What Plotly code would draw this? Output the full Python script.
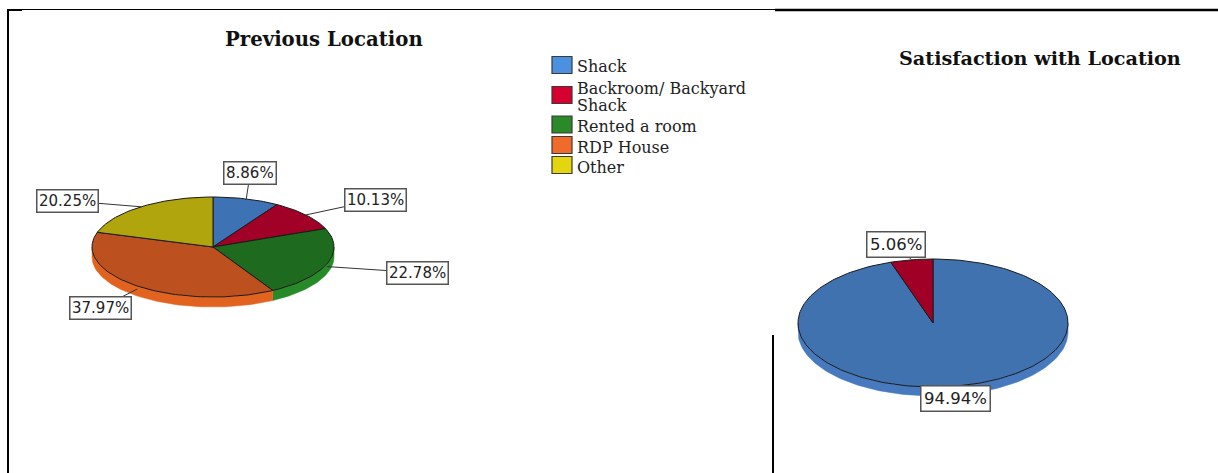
import numpy as np
import plotly.graph_objects as go

# ---------------- data ----------------
prev_categories = ["Shack", "Backroom/ Backyard Shack", "Rented a room", "RDP House", "Other"]
prev_values = [8.86, 10.13, 22.78, 37.97, 20.25]

sat_categories = ["Yes", "No"]
sat_values = [94.94, 5.06]

# ---------------- styles ----------------
prev_top = ["#3d72b4", "#a10027", "#1e6a1e", "#bd501f", "#b0a50c"]
prev_side = ["#4a86cc", "#c4103a", "#268a28", "#e2631f", "#cfc214"]
prev_legend = ["#4c90e0", "#d5002e", "#2a8a2a", "#f06a2a", "#e4d60e"]
sat_top = ["#3f72ae", "#a00026"]
sat_side = ["#4679bd", "#c4103a"]

W, H = 1218, 473

# pie geometry (pixel layout)
left_pie = dict(cx=213, cy=247, rx=121, ry=50, depth=10, label_size=15, pad=1.5)
right_pie = dict(cx=933, cy=323, rx=135, ry=64, depth=9, label_size=16.5, pad=2.5)
# label box offsets from the leader anchor (layout)
left_label_off = [(4, -26), (70, -15), (90, 6), (-37, 19), (-74, -6)]
right_label_off = [(1, 10), (-16, -15)]

# legend layout: swatch centre y and text line y's (pixels)
legend_swatch_y = [65, 95, 124.5, 145, 165]
legend_text_lines = [[66], [88, 105], [126], [147], [167]]

fig = go.Figure()


def arc(p, a0, a1, n=None, dy=0.0):
    if n is None:
        n = max(3, int(abs(a1 - a0) / 1.5) + 2)
    t = np.radians(np.linspace(a0, a1, n))
    return p["cx"] + p["rx"] * np.sin(t), p["cy"] - p["ry"] * np.cos(t) + dy


def draw_pie(p, names, values, tops, sides, offs, start_offset=0.0):
    total = float(sum(values))
    bounds = []
    acc = start_offset
    for v in values:
        a0 = acc
        a1 = acc + 360.0 * v / total
        bounds.append((a0, a1))
        acc = a1
    # sides (visible front part)
    for (a0, a1), col in zip(bounds, sides):
        s0, s1 = max(a0, 90.0), min(a1, 270.0)
        if s1 > s0:
            xt, yt = arc(p, s0, s1)
            xb, yb = arc(p, s1, s0, dy=p["depth"])
            xs = np.concatenate([xt, xb, xt[:1]])
            ys = np.concatenate([yt, yb, yt[:1]])
            fig.add_trace(go.Scatter(x=xs, y=ys, mode="lines", fill="toself",
                                     fillcolor=col, line=dict(color=col, width=0.5),
                                     hoverinfo="skip", showlegend=False))
    # tops
    for (a0, a1), col, nm, v in zip(bounds, tops, names, values):
        xa, ya = arc(p, a0, a1)
        xs = np.concatenate([[p["cx"]], xa, [p["cx"]]])
        ys = np.concatenate([[p["cy"]], ya, [p["cy"]]])
        fig.add_trace(go.Scatter(x=xs, y=ys, mode="lines", fill="toself",
                                 fillcolor=col, line=dict(color="#1a1a1a", width=1),
                                 name=nm, text=f"{nm}: {v:.2f}%", hoverinfo="text",
                                 hoveron="fills", showlegend=False))
    # leaders + labels
    for (a0, a1), v, (ox, oy) in zip(bounds, values, offs):
        m = (a0 + a1) / 2.0
        t = np.radians(m)
        ax = p["cx"] + p["rx"] * np.sin(t)
        ay = p["cy"] - p["ry"] * np.cos(t)
        if 90 < m < 270:
            ay += p["depth"] * 0.3
        lx, ly = ax + ox, ay + oy
        fig.add_trace(go.Scatter(x=[ax, lx], y=[ay, ly], mode="lines",
                                 line=dict(color="#333333", width=1),
                                 hoverinfo="skip", showlegend=False))
        fig.add_annotation(x=lx, y=ly, text=f"{v:.2f}%", showarrow=False,
                           xanchor="center", yanchor="middle",
                           font=dict(family="DejaVu Sans", size=p["label_size"], color="#222222"),
                           bgcolor="white", bordercolor="#555555", borderwidth=1.5,
                           borderpad=p["pad"])


draw_pie(left_pie, prev_categories, prev_values, prev_top, prev_side, left_label_off)
draw_pie(right_pie, sat_categories, sat_values, sat_top, sat_side, right_label_off)

# legend (drawn: swatch + text)
legend_split = {"Backroom/ Backyard Shack": ["Backroom/ Backyard", "Shack"]}
for nm, col, sy, lines in zip(prev_categories, prev_legend, legend_swatch_y, legend_text_lines):
    fig.add_shape(type="rect", xref="x", yref="y", x0=552, x1=572, y0=sy - 8.5, y1=sy + 8.5,
                  fillcolor=col, line=dict(color="#3a3a3a", width=1.2))
    parts = legend_split.get(nm, [nm])
    for txt, ty in zip(parts, lines):
        fig.add_annotation(x=575, y=ty, text=txt, showarrow=False, xanchor="left",
                           yanchor="middle",
                           font=dict(family="DejaVu Serif", size=16, color="#222222"))

# titles
fig.add_annotation(x=324, y=39, text="<b>Previous Location</b>", showarrow=False,
                   font=dict(family="DejaVu Serif", size=19.7, color="#111111"))
fig.add_annotation(x=1040, y=58, text="<b>Satisfaction with Location</b>", showarrow=False,
                   font=dict(family="DejaVu Serif", size=19.2, color="#111111"))

# frame lines
frame = [
    dict(x0=7, y0=9.5, x1=775, y1=9.5, w=1),
    dict(x0=7, y0=10, x1=22, y1=10, w=2),
    dict(x0=775, y0=10, x1=1218, y1=10, w=2.5),
    dict(x0=8, y0=9, x1=8, y1=473, w=2),
    dict(x0=773, y0=335, x1=773, y1=473, w=2),
]
for f in frame:
    fig.add_shape(type="line", xref="x", yref="y", x0=f["x0"], y0=f["y0"],
                  x1=f["x1"], y1=f["y1"], line=dict(color="black", width=f["w"]))

fig.update_layout(
    width=W, height=H,
    margin=dict(l=0, r=0, t=0, b=0),
    paper_bgcolor="white", plot_bgcolor="white",
    xaxis=dict(range=[0, W], visible=False, fixedrange=True),
    yaxis=dict(range=[H, 0], visible=False, fixedrange=True),
    showlegend=False,
)

fig.write_html("out.html")
